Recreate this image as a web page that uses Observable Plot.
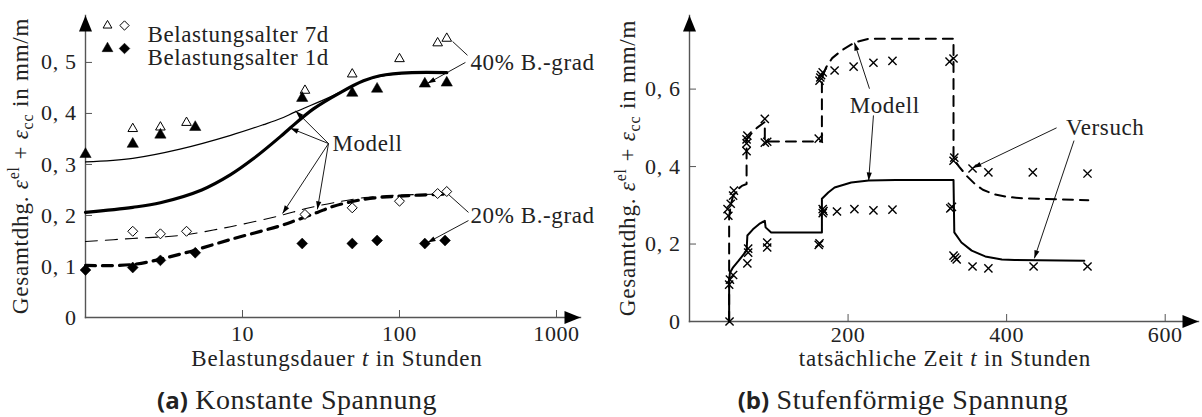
<!DOCTYPE html>
<html>
<head>
<meta charset="utf-8">
<script src="https://cdn.jsdelivr.net/npm/d3@7"></script>
<script src="https://cdn.jsdelivr.net/npm/@observablehq/plot@0.6"></script>
<style>
  html, body { margin:0; padding:0; background:#fff; }
  #wrap { position:relative; width:1202px; height:417px; overflow:hidden; font-family:'Liberation Serif', serif; color:#222; }
  #pa, #pb { position:absolute; top:0; }
  #pa { left:0; } #pb { left:600px; }
  #wrap svg text { letter-spacing: 0.6px; font-family:'Liberation Serif', serif; }
  .lab { position:absolute; white-space:nowrap; font-family:'Liberation Serif', serif; font-size:23px; letter-spacing:0.8px; line-height:1; }
  .ylab { transform: translate(-50%,-50%) rotate(-90deg); }
  .xlab { transform: translate(-50%,-50%); }
  .lab sup, .lab sub { font-size:16px; line-height:0; }
  .cap { position:absolute; white-space:nowrap; font-family:'Liberation Serif', serif; font-size:28px; letter-spacing:0.5px; transform:translate(-50%,-50%); line-height:1; }
  .cap b { font-family:'Open Sans', sans-serif; font-weight:700; font-size:24px; letter-spacing:0; }
</style>
</head>
<body>
<div id="wrap">
  <div id="pa"></div>
  <div id="pb"></div>
  <div class="lab ylab" style="left:20px;top:166px">Gesamtdhg. <i>ε</i><sup>el</sup> + <i>ε</i><sub>cc</sub> in mm/m</div>
  <div class="lab xlab" style="left:337px;top:358px">Belastungsdauer <i>t</i> in Stunden</div>
  <div class="cap" style="left:297px;top:400px"><b>(a)</b> Konstante Spannung</div>
  <div class="lab ylab" style="left:627px;top:168px">Gesamtdhg. <i>ε</i><sup>el</sup> + <i>ε</i><sub>cc</sub> in mm/m</div>
  <div class="lab xlab" style="left:945px;top:358px">tatsächliche Zeit <i>t</i> in Stunden</div>
  <div class="cap" style="left:903px;top:400px"><b>(b)</b> Stufenförmige Spannung</div>
</div>
<script>
// ================= Panel (a): constant stress =================
const xDomainA = [1, 1422];
const yDomainA = [0, 0.592];
const xTicksA = [10, 100, 1000];
const yTicksA = [0, 0.1, 0.2, 0.3, 0.4, 0.5];

// Versuch (measured) points
const tOpen40 = [2, 3, 4.4, 25, 50, 100, 175, 200];               // Belastungsalter 7d, 40 %
const vOpen40 = [0.370, 0.373, 0.382, 0.445, 0.477, 0.507, 0.538, 0.547];
const tFill40 = [1, 2, 3, 5, 24, 50, 72, 145, 200];               // Belastungsalter 1d, 40 %
const vFill40 = [0.320, 0.340, 0.358, 0.373, 0.430, 0.440, 0.448, 0.458, 0.460];
const tOpen20 = [2, 3, 4.4, 25, 50, 100, 175, 200];               // Belastungsalter 7d, 20 %
const vOpen20 = [0.169, 0.164, 0.169, 0.202, 0.215, 0.228, 0.243, 0.247];
const tFill20 = [1, 2, 3, 5, 24, 50, 72, 145, 195];               // Belastungsalter 1d, 20 %
const vFill20 = [0.093, 0.098, 0.112, 0.127, 0.145, 0.145, 0.151, 0.145, 0.151];

// Modell curves
const tModel7d40 = [1, 2, 4, 8.4, 13.6, 17.5, 21.7, 36, 46, 65, 100, 150, 200];
const vModel7d40 = [0.305, 0.312, 0.330, 0.357, 0.378, 0.390, 0.403, 0.432, 0.448, 0.468, 0.478, 0.480, 0.480];
const tModel1d40 = [1, 2, 3, 5.5, 8.4, 11.7, 17.5, 20.2, 28.3, 42, 59, 75, 120, 200];
const vModel1d40 = [0.206, 0.216, 0.225, 0.250, 0.280, 0.311, 0.355, 0.372, 0.409, 0.441, 0.464, 0.474, 0.480, 0.480];
const tModel7d20 = [1, 2, 4, 8.4, 17.5, 25, 38, 60, 100, 200];
const vModel7d20 = [0.149, 0.155, 0.161, 0.178, 0.200, 0.213, 0.225, 0.235, 0.240, 0.242];
const tModel1d20 = [1, 2, 4, 8.4, 17.5, 21.7, 30, 38, 60, 100, 200];
const vModel1d20 = [0.102, 0.104, 0.124, 0.153, 0.180, 0.190, 0.206, 0.218, 0.232, 0.238, 0.242];

// Legend and annotations
const legendLabels = ["Belastungsalter 7d", "Belastungsalter 1d"];
const noteTextA = ["40% B.-grad", "20% B.-grad", "Modell"];
const noteTA = [283, 283, 37.4];
const noteVA = [0.500, 0.200, 0.341];
const arrowA_t1 = [263, 275, 35.3, 35.3, 35.3, 35.3];
const arrowA_v1 = [0.500, 0.190, 0.341, 0.341, 0.341, 0.341];
const arrowA_t2 = [151, 151, 21.8, 20.2, 18, 30];
const arrowA_v2 = [0.459, 0.147, 0.405, 0.371, 0.204, 0.212];
const lineA_t1 = [271, 275];
const lineA_v1 = [0.514, 0.206];
const lineA_t2 = [218, 202];
const lineA_v2 = [0.541, 0.243];

// ================= Panel (b): stepwise stress =================
const xDomainB = [0, 642];
const yDomainB = [0, 0.79];
const xTicksB = [200, 400, 600];
const yTicksB = [0, 0.2, 0.4, 0.6];

const tTest = [50.5, 50, 51, 55, 73, 74, 74, 98, 98, 163, 164, 168, 168, 169, 186, 208, 232, 256, 329, 331, 333, 335, 337, 357, 377, 434, 502,
               49, 48, 52, 55, 56, 72, 72, 72, 73, 95, 95, 98, 163, 164, 165, 166, 168, 183, 207, 232, 256, 328, 333, 333, 334, 357, 377, 433, 502];
const vTest = [0.000, 0.095, 0.108, 0.120, 0.150, 0.178, 0.188, 0.191, 0.204, 0.198, 0.202, 0.280, 0.290, 0.285, 0.284, 0.290, 0.287, 0.289, 0.292, 0.296, 0.170, 0.165, 0.160, 0.142, 0.137, 0.142, 0.142,
               0.273, 0.290, 0.304, 0.325, 0.338, 0.440, 0.460, 0.470, 0.480, 0.523, 0.462, 0.464, 0.472, 0.622, 0.630, 0.636, 0.643, 0.648, 0.658, 0.668, 0.673, 0.671, 0.679, 0.415, 0.423, 0.395, 0.385, 0.385, 0.382];

const tSolid = [50, 50, 51, 55, 62, 72, 73, 80, 88, 95, 96, 103, 167, 167, 175, 183, 204, 226, 260, 333, 334, 343, 356, 373, 394, 410, 498];
const vSolid = [0, 0.106, 0.126, 0.140, 0.157, 0.183, 0.222, 0.238, 0.252, 0.260, 0.243, 0.230, 0.230, 0.317, 0.333, 0.346, 0.359, 0.364, 0.365, 0.365, 0.230, 0.204, 0.183, 0.168, 0.160, 0.159, 0.157];
const tDash = [50, 50, 52, 55, 60, 66, 72, 72, 78, 85, 95, 95, 167, 167, 172, 180, 192, 208, 226, 333, 333, 340, 350, 360, 370, 385, 400, 420, 503];
const vDash = [0, 0.270, 0.300, 0.325, 0.340, 0.350, 0.355, 0.470, 0.485, 0.500, 0.515, 0.465, 0.465, 0.630, 0.655, 0.680, 0.700, 0.720, 0.730, 0.730, 0.420, 0.400, 0.375, 0.355, 0.340, 0.328, 0.322, 0.318, 0.313];

const noteTextB = ["Modell", "Versuch"];
const noteTB = [202, 475];
const noteVB = [0.557, 0.500];
const arrowB_t1 = [227, 232, 463, 485];
const arrowB_v1 = [0.601, 0.532, 0.500, 0.467];
const arrowB_t2 = [208, 226, 358, 435];
const arrowB_v2 = [0.720, 0.364, 0.397, 0.163];

// ================= helpers =================
const rows = (ts, vs) => ts.map((t, i) => ({t, v: vs[i]}));
const notes = (txt, ts, vs) => txt.map((s, i) => ({s, t: ts[i], v: vs[i]}));
const segs = (t1, v1, t2, v2) => t1.map((_, i) => ({t1: t1[i], v1: v1[i], t2: t2[i], v2: v2[i]}));
const fmtTick = d => d === 0 ? "0" : d.toFixed(1).replace(".", ", ");
const arrowHead = { draw(ctx) { ctx.moveTo(0, 0); ctx.lineTo(6.5, 16); ctx.lineTo(-6.5, 16); ctx.closePath(); } };
const AX = "#555";
const baseStyle = "font-family: 'Liberation Serif', serif; font-size: 22px; color: #222; background: transparent; overflow: visible;";

function axisMarks(xTicks, yTicks, xPad) {
  return [
    Plot.axisX({ticks: xTicks, tickSize: -7, tickPadding: xPad, tickFormat: d => String(d), label: null, stroke: AX, fill: "#222", fontSize: 22}),
    Plot.axisY({ticks: yTicks, tickSize: -7, tickPadding: 16, tickFormat: fmtTick, label: null, stroke: AX, fill: "#222", fontSize: 22}),
    Plot.frame({anchor: "left", stroke: AX, strokeWidth: 1.4}),
    Plot.frame({anchor: "bottom", stroke: AX, strokeWidth: 1.4}),
    Plot.dot({length: 1}, {frameAnchor: "top-left", symbol: arrowHead, fill: "black", stroke: "none"}),
    Plot.dot({length: 1}, {frameAnchor: "bottom-right", symbol: arrowHead, rotate: 90, fill: "black", stroke: "none"})
  ];
}

function fixMarkers(svg) {
  svg.querySelectorAll("marker").forEach(m => {
    m.setAttribute("viewBox", "-10 -5 12 10");
    m.setAttribute("markerWidth", 12);
    m.setAttribute("markerHeight", 10);
    m.setAttribute("markerUnits", "userSpaceOnUse");
    m.setAttribute("refX", 0);
    m.setAttribute("refY", 0);
    m.setAttribute("fill", "black");
    m.setAttribute("stroke", "none");
    m.innerHTML = "";
    const p = document.createElementNS("http://www.w3.org/2000/svg", "path");
    p.setAttribute("d", "M-8,-2.6L0,0L-8,2.6Z");
    m.appendChild(p);
  });
}

// ================= Plot (a) =================
const pa = Plot.plot({
  width: 600, height: 370,
  marginLeft: 85, marginRight: 20, marginTop: 15, marginBottom: 53,
  style: baseStyle,
  x: {type: "log", domain: xDomainA},
  y: {domain: yDomainA},
  marks: [
    ...axisMarks(xTicksA, yTicksA, 15),
    Plot.line(rows(tModel7d40, vModel7d40), {x: "t", y: "v", stroke: "black", strokeWidth: 1.2, curve: "catmull-rom"}),
    Plot.line(rows(tModel1d40, vModel1d40), {x: "t", y: "v", stroke: "black", strokeWidth: 3.2, curve: "catmull-rom"}),
    Plot.line(rows(tModel7d20, vModel7d20), {x: "t", y: "v", stroke: "black", strokeWidth: 1.1, strokeDasharray: "12,8", curve: "catmull-rom"}),
    Plot.line(rows(tModel1d20, vModel1d20), {x: "t", y: "v", stroke: "black", strokeWidth: 3.2, strokeDasharray: "10,7", curve: "catmull-rom"}),
    Plot.link(segs(lineA_t1, lineA_v1, lineA_t2, lineA_v2), {x1: "t1", y1: "v1", x2: "t2", y2: "v2", stroke: "black", strokeWidth: 0.9}),
    Plot.link(segs(arrowA_t1, arrowA_v1, arrowA_t2, arrowA_v2), {x1: "t1", y1: "v1", x2: "t2", y2: "v2", stroke: "black", strokeWidth: 0.9, markerEnd: "arrow"}),
    Plot.dot(rows(tOpen40, vOpen40), {x: "t", y: "v", symbol: "triangle2", r: 4.6, fill: "white", stroke: "black", strokeWidth: 1}),
    Plot.dot(rows(tFill40, vFill40), {x: "t", y: "v", symbol: "triangle2", r: 5.4, fill: "black", stroke: "black", strokeWidth: 0.5}),
    Plot.dot(rows(tOpen20, vOpen20), {x: "t", y: "v", symbol: "diamond2", r: 4.5, fill: "white", stroke: "black", strokeWidth: 1}),
    Plot.dot(rows(tFill20, vFill20), {x: "t", y: "v", symbol: "diamond2", r: 4.9, fill: "black", stroke: "black", strokeWidth: 0.5}),
    Plot.text(notes(noteTextA, noteTA, noteVA), {x: "t", y: "v", text: "s", textAnchor: "start", fontSize: 23, fill: "#222"}),
    // legend
    Plot.dot({length: 1}, {frameAnchor: "top-left", dx: 22, dy: 10, symbol: "triangle2", r: 4.2, fill: "white", stroke: "black", strokeWidth: 1}),
    Plot.dot({length: 1}, {frameAnchor: "top-left", dx: 39, dy: 10, symbol: "diamond2", r: 4.2, fill: "white", stroke: "black", strokeWidth: 1}),
    Plot.dot({length: 1}, {frameAnchor: "top-left", dx: 22, dy: 33, symbol: "triangle2", r: 5.2, fill: "black", stroke: "black", strokeWidth: 0.5}),
    Plot.dot({length: 1}, {frameAnchor: "top-left", dx: 39, dy: 33, symbol: "diamond2", r: 4.8, fill: "black", stroke: "black", strokeWidth: 0.5}),
    Plot.text([legendLabels[0]], {frameAnchor: "top-left", dx: 62, dy: 10, textAnchor: "start", fontSize: 23, fill: "#222"}),
    Plot.text([legendLabels[1]], {frameAnchor: "top-left", dx: 62, dy: 33, textAnchor: "start", fontSize: 23, fill: "#222"})
  ]
});
fixMarkers(pa);
document.getElementById("pa").appendChild(pa);

// ================= Plot (b) =================
const pb = Plot.plot({
  width: 602, height: 370,
  marginLeft: 89, marginRight: 4, marginTop: 15, marginBottom: 49,
  style: baseStyle,
  x: {domain: xDomainB},
  y: {domain: yDomainB},
  marks: [
    ...axisMarks(xTicksB, yTicksB, 12),
    Plot.line(rows(tSolid, vSolid), {x: "t", y: "v", stroke: "black", strokeWidth: 2}),
    Plot.line(rows(tDash, vDash), {x: "t", y: "v", stroke: "black", strokeWidth: 2, strokeDasharray: "10,7"}),
    Plot.link(segs(arrowB_t1, arrowB_v1, arrowB_t2, arrowB_v2), {x1: "t1", y1: "v1", x2: "t2", y2: "v2", stroke: "black", strokeWidth: 0.9, markerEnd: "arrow"}),
    Plot.dot(rows(tTest, vTest), {x: "t", y: "v", symbol: "times", r: 3.8, stroke: "black", strokeWidth: 1.4}),
    Plot.text(notes(noteTextB, noteTB, noteVB), {x: "t", y: "v", text: "s", textAnchor: "start", fontSize: 23, fill: "#222"})
  ]
});
fixMarkers(pb);
document.getElementById("pb").appendChild(pb);
</script>
</body>
</html>
